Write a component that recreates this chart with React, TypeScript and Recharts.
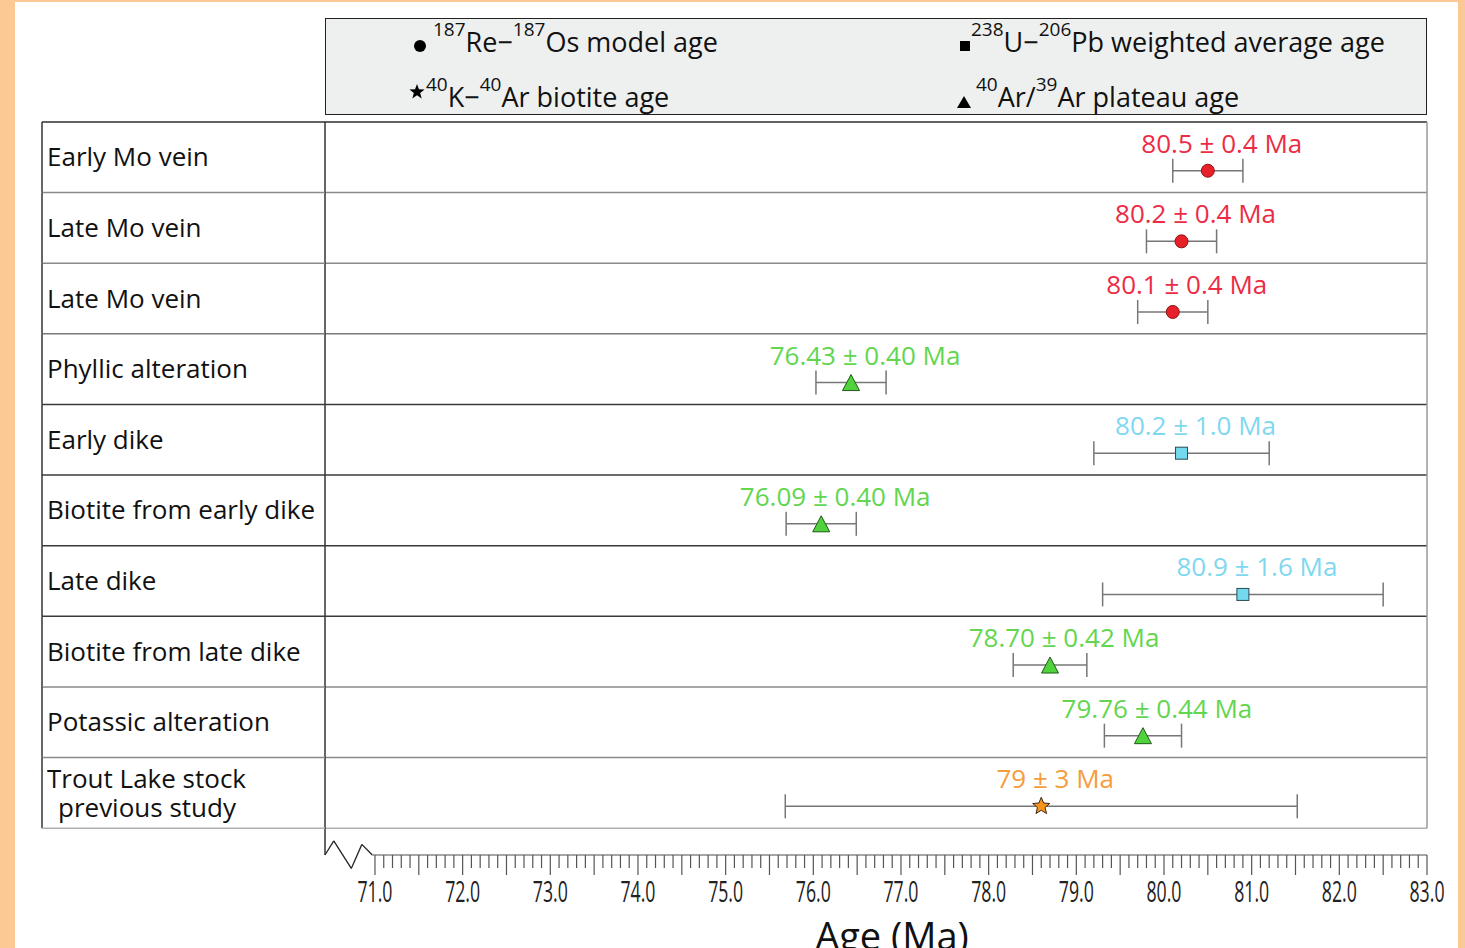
import React from 'react';
import { ScatterChart, Scatter, XAxis, YAxis, ErrorBar, ReferenceLine, Legend } from 'recharts';

const FONT = "'Open Sans', 'Noto Sans', sans-serif";

// ---- data ----
const rowNames = [
  'Early Mo vein',
  'Late Mo vein',
  'Late Mo vein',
  'Phyllic alteration',
  'Early dike',
  'Biotite from early dike',
  'Late dike',
  'Biotite from late dike',
  'Potassic alteration',
  'Trout Lake stock\nprevious study',
];
const ages = [80.5, 80.2, 80.1, 76.43, 80.2, 76.09, 80.9, 78.7, 79.76, 78.6];
const errors = [0.4, 0.4, 0.4, 0.4, 1.0, 0.4, 1.6, 0.42, 0.44, 2.92];
const ageTexts = [
  '80.5 ± 0.4 Ma',
  '80.2 ± 0.4 Ma',
  '80.1 ± 0.4 Ma',
  '76.43 ± 0.40 Ma',
  '80.2 ± 1.0 Ma',
  '76.09 ± 0.40 Ma',
  '80.9 ± 1.6 Ma',
  '78.70 ± 0.42 Ma',
  '79.76 ± 0.44 Ma',
  '79 ± 3 Ma',
];
const methods = ['ReOs', 'ReOs', 'ReOs', 'ArAr', 'UPb', 'ArAr', 'UPb', 'ArAr', 'ArAr', 'KAr'];
const majorTicks = [71, 72, 73, 74, 75, 76, 77, 78, 79, 80, 81, 82, 83];

// ---- layout constants ----
const W = 1465;
const H = 948;
const M_TOP = 122;
const M_LEFT = 42;
const M_RIGHT = 38;
const X_AXIS_H = 93;
const Y_AXIS_W = 283;
const PLOT_H = H - M_TOP - X_AXIS_H;
const Y_MAX = 10.38;
const ROW_PX = PLOT_H / Y_MAX;
const X_MIN = 70.43;
const X_MAX = 83;
const POINT_OFFSET = 0.69;

const rowLineStrokes = ['#2e2e2e', '#8a8a8a', '#8a8a8a', '#7a7a7a', '#3a3a3a', '#3a3a3a', '#3a3a3a', '#3a3a3a', '#8a8a8a', '#8a8a8a', '#b0b0b0'];

// axis break zig-zag (data coordinates)
const axisBreak = [
  { x: X_MIN, y: Y_MAX },
  { x: 70.53, y: 10.18 },
  { x: 70.73, y: 10.57 },
  { x: 70.85, y: 10.23 },
  { x: 70.97, y: Y_MAX },
  { x: X_MAX, y: Y_MAX },
];

const xTicks: number[] = [];
majorTicks.forEach((m, i) => {
  xTicks.push(m);
  if (i < majorTicks.length - 1) {
    for (let k = 1; k < 10; k++) xTicks.push(Math.round((m + k / 10) * 10) / 10);
  }
});
const yTicks: number[] = [];
for (let i = 0; i <= rowNames.length; i++) {
  yTicks.push(i);
  if (i < rowNames.length) yTicks.push(i + 0.5);
}

const points = rowNames.map((name, i) => ({
  x: ages[i],
  y: i + POINT_OFFSET,
  err: errors[i],
  text: ageTexts[i],
  method: methods[i],
}));

const styles: Record<string, { fill: string; stroke: string; text: string; name: string }> = {
  ReOs: { fill: '#e8202a', stroke: '#8c1212', text: '#ec2c45', name: 'Re-Os' },
  UPb: { fill: '#72d9ef', stroke: '#2a4a55', text: '#7fd8ef', name: 'U-Pb' },
  KAr: { fill: '#f7941d', stroke: '#3a2a10', text: '#f59d3d', name: 'K-Ar' },
  ArAr: { fill: '#4fd23c', stroke: '#1f5a18', text: '#62d64f', name: 'Ar-Ar' },
};

function starPath(cx: number, cy: number, ro: number, ri: number) {
  let d = '';
  for (let k = 0; k < 10; k++) {
    const r = k % 2 === 0 ? ro : ri;
    const a = -Math.PI / 2 + (k * Math.PI) / 5;
    d += (k === 0 ? 'M' : 'L') + (cx + r * Math.cos(a)).toFixed(2) + ',' + (cy + r * Math.sin(a)).toFixed(2);
  }
  return d + 'Z';
}

function marker(method: string, cx: number, cy: number) {
  const st = styles[method];
  if (method === 'ReOs') return <circle cx={cx} cy={cy} r={6.5} fill={st.fill} stroke={st.stroke} strokeWidth={1} />;
  if (method === 'UPb') {
    const h = 6;
    return <rect x={cx - h} y={cy - h} width={2 * h} height={2 * h} fill={st.fill} stroke={st.stroke} strokeWidth={1} />;
  }
  if (method === 'KAr') return <path d={starPath(cx, cy, 9, 4)} fill={st.fill} stroke={st.stroke} strokeWidth={1} />;
  const hw = 8.5;
  const hh = 8;
  return <path d={`M${cx},${cy - hh}L${cx + hw},${cy + hh}L${cx - hw},${cy + hh}Z`} fill={st.fill} stroke={st.stroke} strokeWidth={1} />;
}

const makeShape = (method: string) => (props: any) => {
  const { cx, cy, payload } = props;
  if (cx == null || cy == null) return <g />;
  return (
    <g>
      {marker(method, cx, cy)}
      <text x={cx + 14} y={cy - 18} textAnchor="middle" fontSize={26} fontFamily={FONT} fill={styles[method].text}>
        {payload.text}
      </text>
    </g>
  );
};

const XTick = (props: any) => {
  const { x, y, payload } = props;
  const v = payload.value as number;
  const tenths = Math.round(v * 10);
  const tall = tenths % 5 === 0;
  return (
    <g>
      <line x1={x} x2={x} y1={y} y2={y + (tall ? 20 : 13)} stroke="#555" strokeWidth={1.2} />
      {tenths % 10 === 0 && (
        <text x={x} y={y + 47} textAnchor="middle" fontSize={29} fontFamily={FONT} fill="#222" textLength={35} lengthAdjust="spacingAndGlyphs">
          {v.toFixed(1)}
        </text>
      )}
    </g>
  );
};

const YTick = (props: any) => {
  const { x, y, payload } = props;
  const v = payload.value as number;
  if (Number.isInteger(v)) {
    return <line x1={x - Y_AXIS_W} x2={x} y1={y} y2={y} stroke={rowLineStrokes[v]} strokeWidth={1.5} />;
  }
  const idx = Math.floor(v);
  const lines = rowNames[idx].split('\n');
  return (
    <g>
      <line x1={x - Y_AXIS_W} x2={x - Y_AXIS_W} y1={y - ROW_PX / 2} y2={y + ROW_PX / 2} stroke="#333" strokeWidth={1.5} />
      {lines.length === 1 ? (
        <text x={x - Y_AXIS_W + 5} y={y} dy="0.35em" fontSize={26} fontFamily={FONT} fill="#111">
          {lines[0]}
        </text>
      ) : (
        <text fontSize={26} fontFamily={FONT} fill="#111">
          <tspan x={x - Y_AXIS_W + 5} y={y - 14} dy="0.35em">{lines[0]}</tspan>
          <tspan x={x - Y_AXIS_W + 16} y={y + 15} dy="0.35em">{lines[1]}</tspan>
        </text>
      )}
    </g>
  );
};

const legendItems = [
  { method: 'ReOs', mx: 95, my: 28, tx: 108, base: 34, parts: [['187', true], ['Re−', false], ['187', true], ['Os model age', false]] },
  { method: 'UPb', mx: 640, my: 28, tx: 646, base: 34, parts: [['238', true], ['U−', false], ['206', true], ['Pb weighted average age', false]] },
  { method: 'KAr', mx: 92, my: 74, tx: 101, base: 89, parts: [['40', true], ['K−', false], ['40', true], ['Ar biotite age', false]] },
  { method: 'ArAr', mx: 639, my: 84, tx: 651, base: 89, parts: [['40', true], ['Ar/', false], ['39', true], ['Ar plateau age', false]] },
];

const LegendBox = () => (
  <div style={{ width: 1102, height: 97, boxSizing: 'border-box', border: '1.5px solid #222', background: '#eef0f0', position: 'relative' }}>
    <svg width={1102} height={97} style={{ position: 'absolute', left: -1.5, top: -1.5, overflow: 'visible' }}>
      {legendItems.map((it) => (
        <g key={it.method}>
          {it.method === 'ReOs' && <circle cx={it.mx} cy={it.my} r={6} fill="#000" />}
          {it.method === 'UPb' && <rect x={it.mx - 5} y={it.my - 5} width={10} height={10} fill="#000" />}
          {it.method === 'KAr' && <path d={starPath(it.mx, it.my, 8, 3.3)} fill="#000" />}
          {it.method === 'ArAr' && <path d={`M${it.mx},${it.my - 6}L${it.mx + 7},${it.my + 6}L${it.mx - 7},${it.my + 6}Z`} fill="#000" />}
          <text x={it.tx} y={it.base} fontFamily={FONT} fill="#111">
            {it.parts.map(([t, sup], k) => (
              <tspan key={k} fontSize={sup ? 19 : 27} dy={sup ? -16 : 16}>
                {t as string}
              </tspan>
            ))}
          </text>
        </g>
      ))}
    </svg>
  </div>
);

export default function App() {
  const methodList = ['ReOs', 'UPb', 'KAr', 'ArAr'];
  return (
    <div style={{ position: 'absolute', left: 0, top: 0, width: W, height: H, background: '#fcc995', overflow: 'hidden' }}>
      <div style={{ position: 'absolute', left: 15, top: 2, width: 1443, height: H, background: '#ffffff' }} />
      <div style={{ position: 'absolute', left: 0, top: 0 }}>
        <ScatterChart width={W} height={H} margin={{ top: M_TOP, right: M_RIGHT, bottom: 0, left: M_LEFT }}>
          <XAxis
            type="number"
            dataKey="x"
            domain={[X_MIN, X_MAX]}
            allowDataOverflow
            ticks={xTicks}
            interval={0}
            tick={<XTick />}
            tickLine={false}
            axisLine={false}
            tickSize={0}
            tickMargin={0}
            height={X_AXIS_H}
            label={{ value: 'Age (Ma)', position: 'insideBottom', offset: -2, dx: 16, style: { fontSize: 38, fontFamily: FONT, fill: '#111' } }}
          />
          <YAxis
            type="number"
            dataKey="y"
            domain={[0, Y_MAX]}
            allowDataOverflow
            reversed
            ticks={yTicks}
            interval={0}
            tick={<YTick />}
            tickLine={false}
            axisLine={{ stroke: '#333', strokeWidth: 1.5 }}
            tickSize={0}
            tickMargin={0}
            width={Y_AXIS_W}
          />
          <Legend
            layout="vertical"
            align="center"
            verticalAlign="middle"
            content={() => <LegendBox />}
            wrapperStyle={{ top: 18, left: 325, width: 1102, height: 97 }}
          />
          {rowLineStrokes.map((s, i) => (
            <ReferenceLine key={'r' + i} y={i} stroke={s} strokeWidth={1.5} />
          ))}
          <ReferenceLine segment={[{ x: X_MAX, y: 0 }, { x: X_MAX, y: 10 }]} stroke="#9a9a9a" strokeWidth={1.5} />
          {axisBreak.slice(0, -1).map((p, i) => (
            <ReferenceLine key={'z' + i} segment={[p, axisBreak[i + 1]]} stroke={i === axisBreak.length - 2 ? '#888' : '#222'} strokeWidth={1.3} ifOverflow="visible" />
          ))}
          {methodList.map((m) => (
            <Scatter key={m} name={styles[m].name} data={points.filter((p) => p.method === m)} shape={makeShape(m)} isAnimationActive={false}>
              <ErrorBar dataKey="err" direction="x" width={12} stroke="#777" strokeWidth={1.5} />
            </Scatter>
          ))}
        </ScatterChart>
      </div>
    </div>
  );
}
